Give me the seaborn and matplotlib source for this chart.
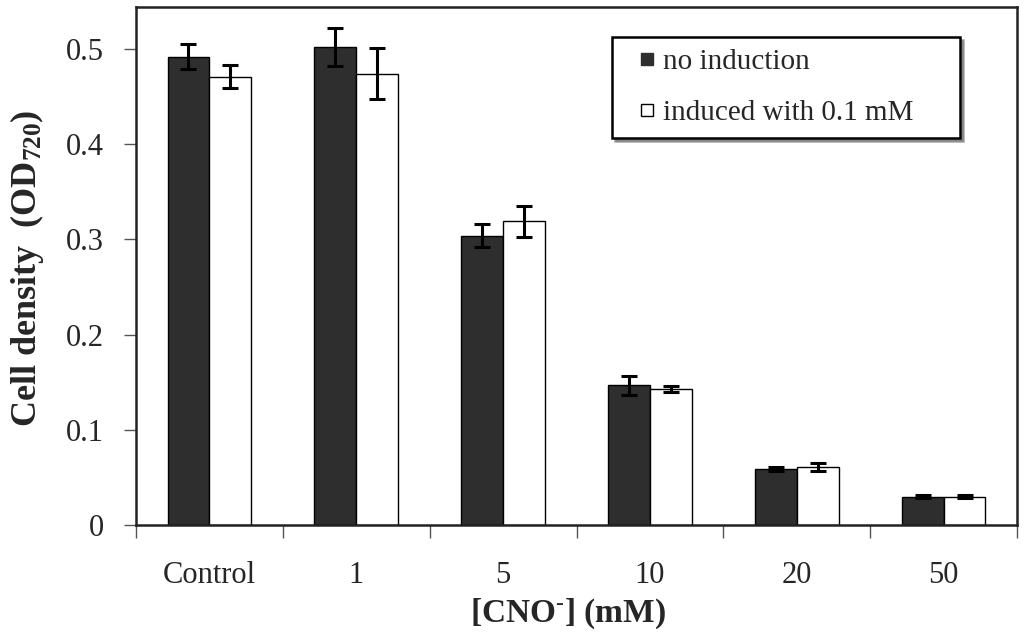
import numpy as np
import pandas as pd
import matplotlib
matplotlib.use("Agg")
import matplotlib.pyplot as plt
import seaborn as sns
from matplotlib.lines import Line2D

# data
categories = ["Control", "1", "5", "10", "20", "50"]
no_induction = [0.492, 0.502, 0.304, 0.147, 0.059, 0.030]
no_induction_err = [0.013, 0.020, 0.012, 0.010, 0.002, 0.002]
induced = [0.471, 0.474, 0.319, 0.143, 0.061, 0.030]
induced_err = [0.012, 0.027, 0.016, 0.003, 0.004, 0.002]
series = ["no induction", "induced with 0.1 mM"]

df = pd.DataFrame({
    "conc": categories * 2,
    "od": no_induction + induced,
    "group": [series[0]] * 6 + [series[1]] * 6,
})
errs = [no_induction_err, induced_err]

sns.set_style("white")
plt.rcParams["font.family"] = ["Liberation Serif", "DejaVu Serif"]
plt.rcParams["mathtext.fontset"] = "custom"
plt.rcParams["mathtext.rm"] = "Liberation Serif"
plt.rcParams["mathtext.bf"] = "Liberation Serif:bold"
plt.rcParams["mathtext.default"] = "regular"

fig = plt.figure(figsize=(10.24, 6.38), dpi=100)
ax = fig.add_axes([0.1328, 0.177, 0.8604, 0.812])

dark = "#2e2e2e"
sns.barplot(data=df, x="conc", y="od", hue="group", order=categories,
            hue_order=series, palette=[dark, "white"], width=0.57,
            errorbar=None, edgecolor="black", linewidth=1.0, ax=ax,
            legend=False)

for cont, e in zip(ax.containers, errs):
    xs = [b.get_x() + b.get_width() / 2 for b in cont]
    ys = [b.get_height() for b in cont]
    ax.errorbar(xs, ys, yerr=e, fmt="none", ecolor="black",
                elinewidth=2.2, capsize=6, capthick=2.2, zorder=5)

ax.set_ylim(0, 0.544)
ax.set_xlim(-0.5, 5.5)
ax.set_yticks([0, 0.1, 0.2, 0.3, 0.4, 0.5])
ax.set_yticklabels(["0", "0.1", "0.2", "0.3", "0.4", "0.5"])
ax.set_xticks(np.arange(len(categories)))
ax.set_xticklabels(categories)
ax.set_xticks(np.arange(-0.5, len(categories)), minor=True)
ax.tick_params(axis="x", which="major", length=0, labelsize=22, pad=26)
ax.tick_params(axis="x", which="minor", length=9, width=1, color="#555555",
               direction="out", bottom=True)
ax.tick_params(axis="y", length=9, width=1, color="#555555", direction="out",
               left=True, labelsize=22, pad=14)

for s in ax.spines.values():
    s.set_color("#222222")
    s.set_linewidth(1.8)

ax.set_xlabel(r"[CNO$^{\text{-}}$] (mM)", fontsize=24, fontweight="bold")
ax.xaxis.set_label_coords(0.490, -0.138)
ax.xaxis.label.set_va("top")
ax.set_ylabel(r"Cell density  (OD$_{720}$)", fontsize=26, fontweight="bold")
ax.yaxis.set_label_coords(-0.102, 0.495)

handles = [Line2D([], [], marker="s", linestyle="none", markersize=9,
                  markerfacecolor=dark, markeredgecolor=dark, label=series[0]),
           Line2D([], [], marker="s", linestyle="none", markersize=9,
                  markerfacecolor="white", markeredgecolor="black",
                  markeredgewidth=1.0, label=series[1])]
leg = ax.legend(handles=handles, loc="upper left",
                bbox_to_anchor=(0.540, 0.747, 0.395, 0.195), mode="expand",
                fontsize=21, frameon=True, fancybox=False, shadow=True,
                handlelength=1.6, handletextpad=-0.25, borderpad=0.4,
                labelspacing=0.85, borderaxespad=0)
leg.get_frame().set_edgecolor("black")
leg.get_frame().set_linewidth(1.8)

fig.savefig("out.png", dpi=100)
